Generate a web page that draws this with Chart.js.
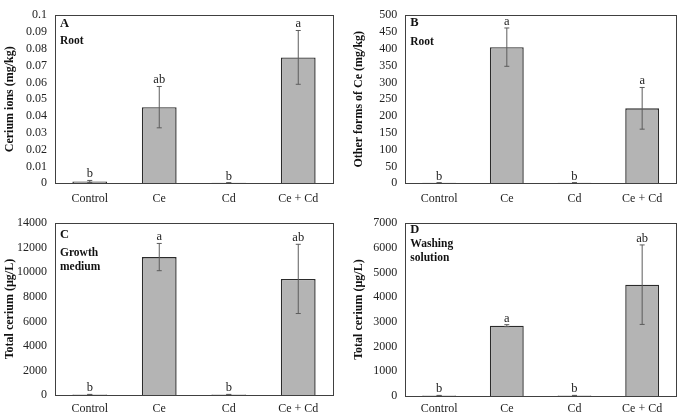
<!DOCTYPE html>
<html>
<head>
<meta charset="utf-8">
<script src="https://cdn.jsdelivr.net/npm/chart.js@4.4.1/dist/chart.umd.min.js"></script>
<style>
  body { margin: 0; background: #fff; width: 687px; height: 416px; overflow: hidden; position: relative; }
  .panel { position: absolute; }
</style>
</head>
<body>
<div class="panel" style="left:0;top:0;width:343px;height:208px"><canvas id="chartA"></canvas></div>
<div class="panel" style="left:343px;top:0;width:344px;height:208px"><canvas id="chartB"></canvas></div>
<div class="panel" style="left:0;top:208px;width:343px;height:208px"><canvas id="chartC"></canvas></div>
<div class="panel" style="left:343px;top:208px;width:344px;height:208px"><canvas id="chartD"></canvas></div>
<script>
const categories = ['Control', 'Ce', 'Cd', 'Ce + Cd'];

// A - cerium ions in root (mg/kg)
const rootIons = [0.0011, 0.0453, 0.0003, 0.0749];
const rootIonsErr = [0.0006, 0.0123, 0.0001, 0.016];
const rootIonsLetters = ['b', 'ab', 'b', 'a'];

// B - other forms of Ce in root (mg/kg)
const rootOther = [1.5, 405, 1.5, 223];
const rootOtherErr = [0.5, 57, 0.5, 62];
const rootOtherLetters = ['b', 'a', 'b', 'a'];

// C - total cerium in growth medium (µg/L)
const growthTotal = [40, 11240, 40, 9460];
const growthTotalErr = [10, 1110, 10, 2820];
const growthTotalLetters = ['b', 'a', 'b', 'ab'];

// D - total cerium in washing solution (µg/L)
const washTotal = [20, 2850, 20, 4510];
const washTotalErr = [5, 40, 5, 1610];
const washTotalLetters = ['b', 'a', 'b', 'ab'];

const SERIF = "'Liberation Serif', 'Times New Roman', serif";

const panelMarks = {
    id: 'panelMarks',
    afterDatasetsDraw(chart, args, opts) {
        const ctx = chart.ctx;
        const xs = chart.scales.x, ys = chart.scales.y;
        const vals = chart.data.datasets[0].data;
        const area = chart.chartArea;
        ctx.save();

        // error bars + letters
        vals.forEach((v, i) => {
            const err = opts.errors[i];
            const cx = xs.getPixelForValue(i);
            const yt = ys.getPixelForValue(v + err);
            const yb = ys.getPixelForValue(Math.max(0, v - err));
            ctx.strokeStyle = '#5c5c5c';
            ctx.lineWidth = 1;
            ctx.beginPath();
            ctx.moveTo(cx, yt); ctx.lineTo(cx, yb);
            ctx.moveTo(cx - 2.5, yt); ctx.lineTo(cx + 2.5, yt);
            ctx.moveTo(cx - 2.5, yb); ctx.lineTo(cx + 2.5, yb);
            ctx.stroke();

            ctx.fillStyle = '#222';
            ctx.font = '12.5px ' + SERIF;
            ctx.textAlign = 'center';
            ctx.textBaseline = 'alphabetic';
            ctx.fillText(opts.letters[i], cx, yt - 3);
        });

        // plot box
        ctx.strokeStyle = '#404040';
        ctx.lineWidth = 1;
        ctx.strokeRect(Math.round(area.left) + 0.5, Math.round(area.top) + 0.5,
            Math.round(area.width), Math.round(area.height));

        // panel label
        ctx.fillStyle = '#111';
        ctx.textAlign = 'left';
        ctx.textBaseline = 'middle';
        opts.label.forEach((t, k) => {
            ctx.font = (k === 0 ? 'bold 12.5px ' : 'bold 11.5px ') + SERIF;
            ctx.fillText(t, area.left + 5, area.top + opts.labelY[k]);
        });
        ctx.restore();
    }
};

function makePanel(id, cfg) {
    const ctx = document.getElementById(id).getContext('2d');
    return new Chart(ctx, {
        type: 'bar',
        data: {
            labels: categories,
            datasets: [{
                data: cfg.values,
                backgroundColor: '#b4b4b4',
                borderColor: '#2b2b2b',
                borderWidth: 1.4,
                barPercentage: 0.5,
                categoryPercentage: 1
            }]
        },
        options: {
            responsive: true,
            maintainAspectRatio: false,
            animation: false,
            layout: { padding: { top: cfg.padTop, right: cfg.padRight, left: 0, bottom: 0 } },
            plugins: {
                legend: { display: false },
                tooltip: { enabled: false },
                panelMarks: { errors: cfg.errors, letters: cfg.letters, label: cfg.label, labelY: cfg.labelY }
            },
            scales: {
                x: {
                    grid: { display: false, drawTicks: false },
                    border: { display: false },
                    ticks: { color: '#222', padding: cfg.xPad, font: { family: SERIF, size: 12 } },
                    afterFit: (s) => { s.height = cfg.xHeight; }
                },
                y: {
                    min: 0,
                    max: cfg.max,
                    grid: { display: false, drawTicks: false },
                    border: { display: false },
                    ticks: {
                        stepSize: cfg.step,
                        autoSkip: false,
                        padding: 8,
                        color: '#222',
                        font: { family: SERIF, size: 12 },
                        callback: (v) => String(+v.toFixed(2))
                    },
                    title: {
                        display: true,
                        text: cfg.title,
                        color: '#111',
                        padding: { top: cfg.titlePad, bottom: 0 },
                        font: { family: SERIF, size: 12, weight: 'bold' }
                    },
                    afterFit: (s) => { s.width = cfg.yWidth; }
                }
            }
        },
        plugins: [panelMarks]
    });
}

makePanel('chartA', {
    values: rootIons, errors: rootIonsErr, letters: rootIonsLetters,
    max: 0.1, step: 0.01, title: 'Cerium ions (mg/kg)',
    label: ['A', 'Root'], labelY: [8.5, 25.5],
    padTop: 6.5, padRight: 10, yWidth: 55, titlePad: 3, xHeight: 24.7, xPad: 8
});
makePanel('chartB', {
    values: rootOther, errors: rootOtherErr, letters: rootOtherLetters,
    max: 500, step: 50, title: 'Other forms of Ce (mg/kg)',
    label: ['B', 'Root'], labelY: [8, 27],
    padTop: 6, padRight: 11, yWidth: 62.3, titlePad: 8.5, xHeight: 24.7, xPad: 8
});
makePanel('chartC', {
    values: growthTotal, errors: growthTotalErr, letters: growthTotalLetters,
    max: 14000, step: 2000, title: 'Total cerium (µg/L)',
    label: ['C', 'Growth', 'medium'], labelY: [12, 30, 43.5],
    padTop: 9.7, padRight: 10, yWidth: 55, titlePad: 3, xHeight: 21, xPad: 7
});
makePanel('chartD', {
    values: washTotal, errors: washTotalErr, letters: washTotalLetters,
    max: 7000, step: 1000, title: 'Total cerium (µg/L)',
    label: ['D', 'Washing', 'solution'], labelY: [7, 21, 35],
    padTop: 12, padRight: 11, yWidth: 62.3, titlePad: 8.5, xHeight: 20, xPad: 6
});
</script>
</body>
</html>
